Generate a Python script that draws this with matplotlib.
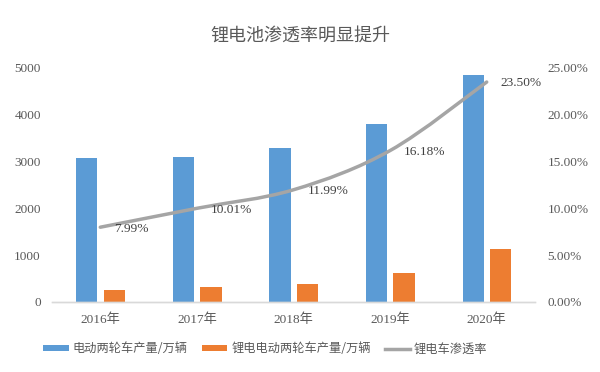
import matplotlib
matplotlib.use("Agg")
import matplotlib.pyplot as plt
import numpy as np
from matplotlib.path import Path
from matplotlib.patches import PathPatch
from matplotlib.lines import Line2D
from matplotlib.patches import Patch

years = ["2016年", "2017年", "2018年", "2019年", "2020年"]
total_prod = [3080, 3100, 3284, 3803, 4844]
lithium_prod = [246, 310, 394, 615, 1138]
penetration = [0.0799, 0.1001, 0.1199, 0.1618, 0.2350]
pen_labels = ["7.99%", "10.01%", "11.99%", "16.18%", "23.50%"]
left_ticks = [0, 1000, 2000, 3000, 4000, 5000]
right_ticks = [0, 0.05, 0.10, 0.15, 0.20, 0.25]

BLUE = "#5B9BD5"
ORANGE = "#ED7D31"
GRAY = "#A5A5A5"
TXT = "#595959"
SERIF = ["Liberation Serif", "Noto Sans CJK SC"]
SANS = ["Noto Sans CJK SC", "DejaVu Sans"]

fig = plt.figure(figsize=(6, 3.72), dpi=100)
ax = fig.add_axes([52/600, 1-302/372, (535-52)/600, (302-68)/372])
ax2 = ax.twinx()

x = np.arange(len(years))
w = 0.22
ax.bar(x - 0.14, total_prod, width=w, color=BLUE, zorder=2)
ax.bar(x + 0.145, lithium_prod, width=w, color=ORANGE, zorder=2)

ax.set_xlim(-0.5, len(years) - 0.5)
ax.set_ylim(0, 5000)
ax.set_yticks(left_ticks)
ax.set_yticklabels([str(v) for v in left_ticks], family=SERIF, fontsize=9.5, color=TXT)
ax.set_xticks(x)
ax.set_xticklabels(years, family=SERIF, fontsize=9.5, color=TXT)
ax.tick_params(axis="both", length=0)
ax.tick_params(axis="y", pad=8)
ax.tick_params(axis="x", pad=8)

ax2.set_ylim(0, 0.25)
ax2.set_yticks(right_ticks)
ax2.set_yticklabels([f"{v*100:.2f}%" for v in right_ticks], family=SERIF, fontsize=9.5, color=TXT)
ax2.tick_params(axis="y", length=0, pad=9)

for a in (ax, ax2):
    for s in ["top", "left", "right"]:
        a.spines[s].set_visible(False)
    a.spines["bottom"].set_color("#D9D9D9")
    a.spines["bottom"].set_linewidth(1.0)

# smoothed line (Bezier through data points)
px = list(x.astype(float))
py = list(penetration)
n = len(px)
verts = [(px[0], py[0])]
codes = [Path.MOVETO]
for i in range(n - 1):
    p0 = np.array([px[max(i-1, 0)], py[max(i-1, 0)]])
    p1 = np.array([px[i], py[i]])
    p2 = np.array([px[i+1], py[i+1]])
    p3 = np.array([px[min(i+2, n-1)], py[min(i+2, n-1)]])
    c1 = p1 + (p2 - p0) / 6
    c2 = p2 - (p3 - p1) / 6
    verts += [tuple(c1), tuple(c2), tuple(p2)]
    codes += [Path.CURVE4] * 3
patch = PathPatch(Path(verts, codes), facecolor="none", edgecolor=GRAY,
                  linewidth=2.5, capstyle="round", zorder=3)
ax2.add_patch(patch)

for xi, yi, lab in zip(px, py, pen_labels):
    ax2.annotate(lab, (xi, yi), xytext=(10, -1), textcoords="offset points",
                 ha="left", va="center", family=SERIF, fontsize=9.6, color="#404040", zorder=4)

fig.text(0.5, 1-36/372, "锂电池渗透率明显提升", ha="center", va="center",
         family=SANS, fontsize=13, color=TXT)

handles = [Patch(facecolor=BLUE), Patch(facecolor=ORANGE),
           Line2D([0], [0], color=GRAY, linewidth=2.5)]
labels = ["电动两轮车产量/万辆", "锂电电动两轮车产量/万辆", "锂电车渗透率"]
leg = fig.legend(handles, labels, loc="center", bbox_to_anchor=(0.4425, 1-349/372), ncol=3,
                 frameon=False, prop={"family": SANS, "size": 8.8},
                 handlelength=2.1, handleheight=0.35, handletextpad=0.3, columnspacing=1.15)
for t in leg.get_texts():
    t.set_color(TXT)

fig.savefig("out.png", dpi=100)
